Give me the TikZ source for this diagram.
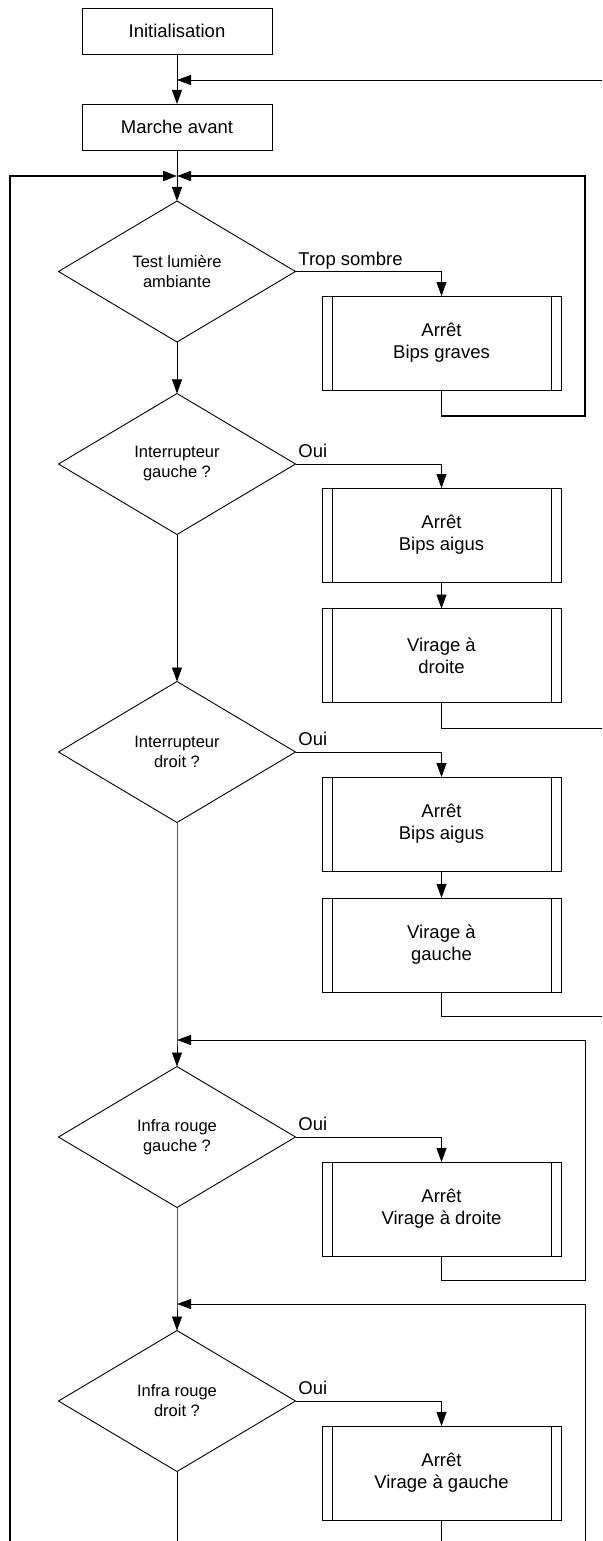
\documentclass[tikz,border=0pt]{standalone}
\usepackage{fontspec}
\setmainfont{Liberation Sans}
\usetikzlibrary{shapes.geometric,arrows.meta}
\begin{document}
\begin{tikzpicture}[x=1pt,y=-1pt,
  line width=0.9pt,
  >={Triangle[length=14pt,width=10pt]},
  startbox/.style={draw, rectangle, minimum width=190pt, minimum height=46pt, inner sep=0pt, outer sep=0pt, font=\fontsize{18.5}{22}\selectfont},
  decision/.style={draw, diamond, minimum width=237pt, minimum height=141pt, inner sep=0pt, outer sep=0pt, align=center, font=\fontsize{16.5}{20}\selectfont},
  procbox/.style={draw, rectangle, minimum width=239pt, minimum height=94pt, inner sep=0pt, outer sep=0pt, align=center, font=\fontsize{18.5}{22}\selectfont,
     path picture={\draw[line width=0.9pt] ([xshift=10pt]path picture bounding box.north west) -- ([xshift=10pt]path picture bounding box.south west) ([xshift=-10pt]path picture bounding box.north east) -- ([xshift=-10pt]path picture bounding box.south east);}},
  lbl/.style={anchor=base west, inner sep=0pt, font=\fontsize{18.5}{22}\selectfont},
  thickloop/.style={line width=1.6pt}]
\useasboundingbox (0,0) rectangle (602,1541);

% main column
\node[startbox] (init) at (177,31) {Initialisation};
\node[startbox] (marche) at (177,127) {Marche avant};
\node[decision] (d1) at (177,271.5) {Test lumière\\ambiante};
\node[decision] (d2) at (177,464) {Interrupteur\\gauche ?};
\node[decision] (d3) at (177,752) {Interrupteur\\droit ?};
\node[decision] (d4) at (177,1137) {Infra rouge\\gauche ?};
\node[decision] (d5) at (177,1401) {Infra rouge\\droit ?};

% process boxes
\node[procbox] (b1) at (441.5,343) {Arrêt\\Bips graves};
\node[procbox] (b2) at (441.5,535) {Arrêt\\Bips aigus};
\node[procbox] (b3) at (441.5,655.5) {Virage à\\droite};
\node[procbox] (b4) at (441.5,824) {Arrêt\\Bips aigus};
\node[procbox] (b5) at (441.5,945) {Virage à\\gauche};
\node[procbox] (b6) at (441.5,1209) {Arrêt\\Virage à droite};
\node[procbox] (b7) at (441.5,1473) {Arrêt\\Virage à gauche};

% labels
\node[lbl] (l1) at (298,265) {Trop sombre};
\node[lbl] (l2) at (298,457) {Oui};
\node[lbl] (l3) at (298,745) {Oui};
\node[lbl] (l4) at (298,1130) {Oui};
\node[lbl] (l5) at (298,1394) {Oui};

% junction and helper coordinates
\coordinate (m0) at (177,80);
\coordinate (m0r) at (602,80);
\coordinate (j0) at (177,176);
\coordinate (lbot) at (10,1541);
\coordinate (ltop) at (10,176);
\coordinate (r1a) at (441.5,416);
\coordinate (r1b) at (585,416);
\coordinate (r1c) at (585,176);
\coordinate (r3) at (602,728);
\coordinate (r5) at (602,1016);
\coordinate (j4) at (177,1040);
\coordinate (r6a) at (441.5,1280);
\coordinate (r6b) at (585,1280);
\coordinate (r6c) at (585,1040);
\coordinate (j5) at (177,1304);
\coordinate (r7bot) at (585,1541);
\coordinate (r7top) at (585,1304);
\coordinate (b7bot) at (441.5,1541);
\coordinate (d5bot) at (177,1541);

% connectors
\draw[->] (init) -- (marche);
\draw[->] (m0r) -- (m0);
\draw[->] (marche) -- (d1);
\draw[->,thickloop] (lbot) -- (ltop) -- (j0);
\draw[->,thickloop] (b1.south) -- (r1a) -- (r1b) -- (r1c) -- (j0);

\draw[->] (d1.east) -| (b1.north);
\draw[->] (d1) -- (d2);

\draw[->] (d2.east) -| (b2.north);
\draw[->] (b2) -- (b3);
\draw (b3.south) |- (r3);
\draw[->] (d2) -- (d3);

\draw[->] (d3.east) -| (b4.north);
\draw[->] (b4) -- (b5);
\draw (b5.south) |- (r5);
\draw[->] (d3.south) -- (j4) -- (d4.north);
\draw[->] (b6.south) -- (r6a) -- (r6b) -- (r6c) -- (j4);

\draw[->] (d4.east) -| (b6.north);
\draw[->] (d4.south) -- (j5) -- (d5.north);
\draw[->] (r7bot) -- (r7top) -- (j5);

\draw[->] (d5.east) -| (b7.north);
\draw (b7.south) -- (b7bot);
\draw (d5.south) -- (d5bot);
\end{tikzpicture}
\end{document}
